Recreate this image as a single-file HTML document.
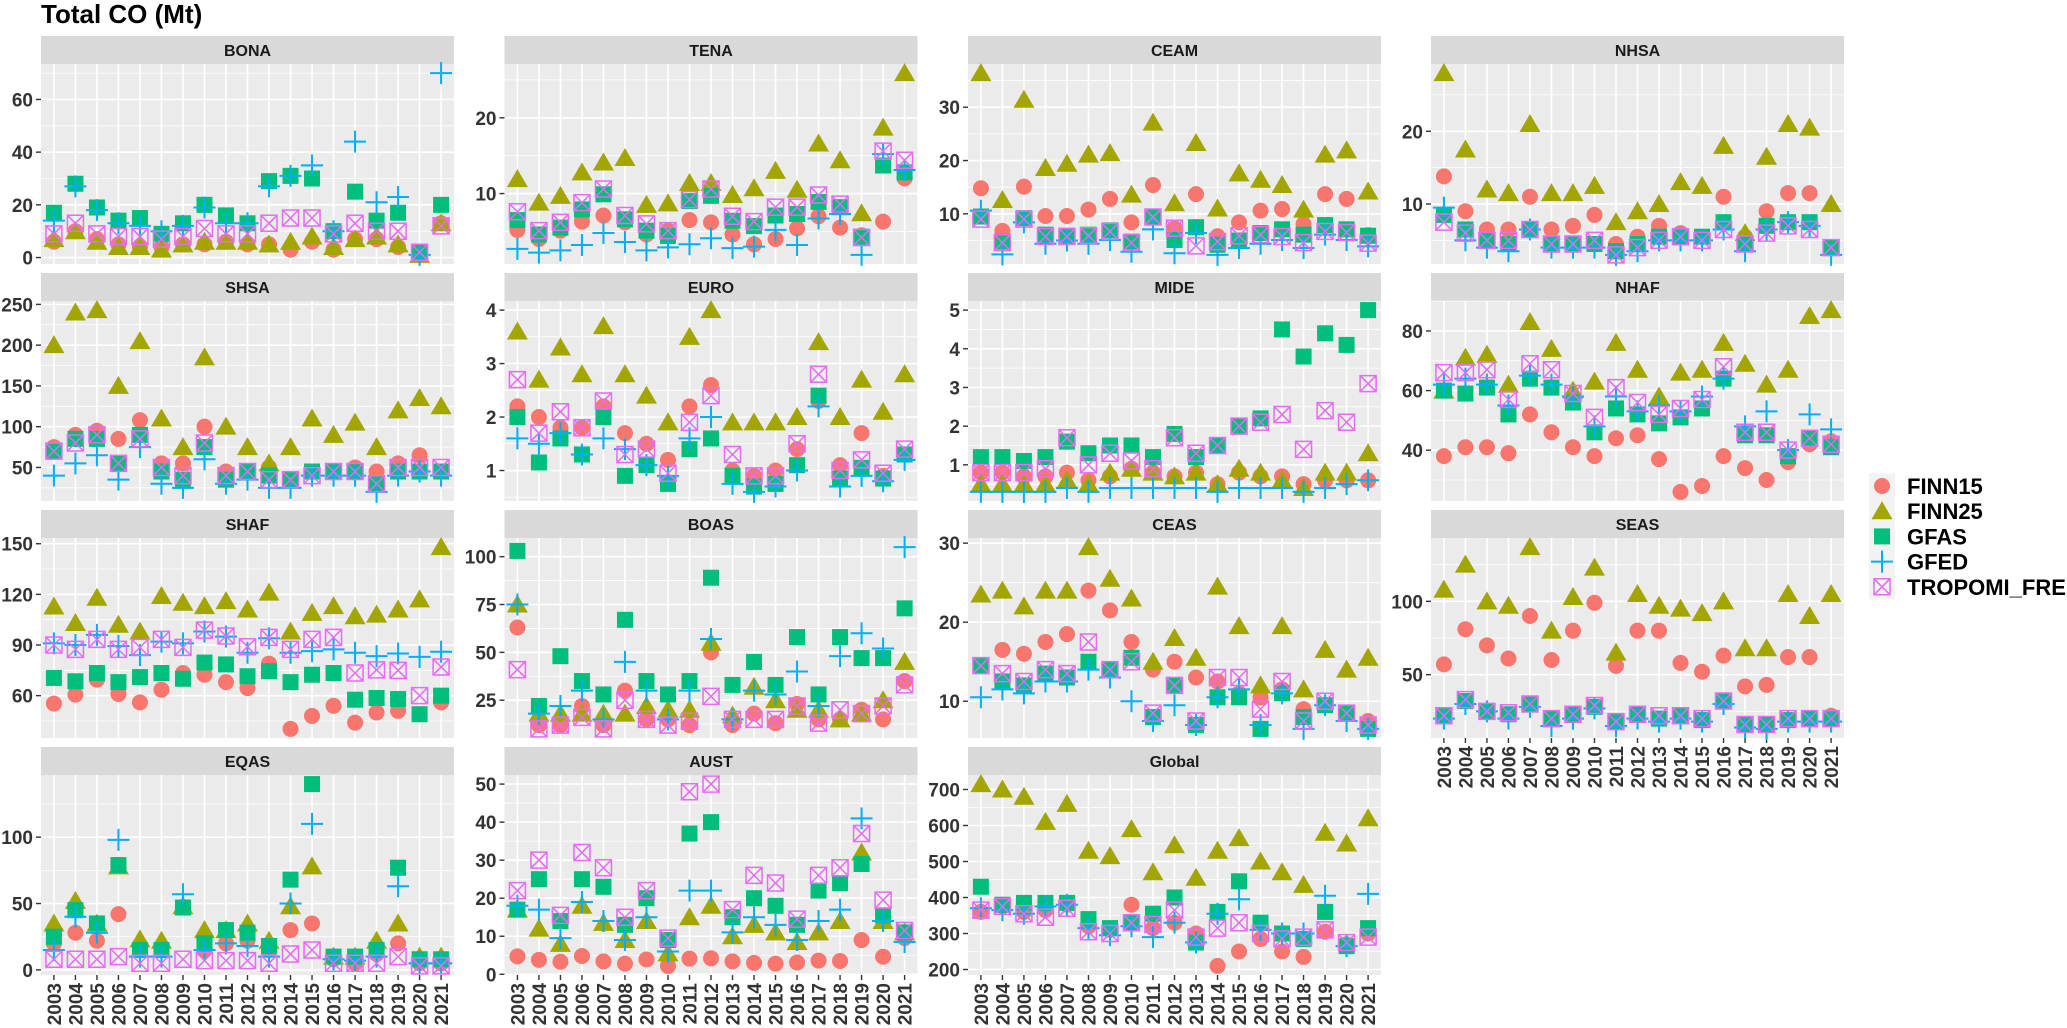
<!DOCTYPE html>
<html><head><meta charset="utf-8"><style>
html,body{margin:0;padding:0;background:#fff;}
svg{display:block;font-family:"Liberation Sans",Arial,sans-serif;}
</style></head><body>
<svg id="chart" width="2067" height="1028" viewBox="0 0 2067 1028" xmlns="http://www.w3.org/2000/svg">
<text x="41" y="23" font-size="26" font-weight="bold" fill="#000">Total CO (Mt)</text>
<g id="panels"></g>
<g id="legend"></g>
</svg>
<script>
const years = [2003,2004,2005,2006,2007,2008,2009,2010,2011,2012,2013,2014,2015,2016,2017,2018,2019,2020,2021];
const seriesNames = ["FINN15","FINN25","GFAS","GFED","TROPOMI_FRE"];

const bonaFinn15 = [6,10,7,5,4,4,5,5,6,5,5,3,6,3,7,7,4,1,13];
const bonaFinn25 = [7,10,6,4,4,3,5,6,6,6,5,6,8,4,7,8,5,1,13];
const bonaGfas = [17,28,19,14,15,9,13,20,16,13,29,31,30,10,25,14,17,2,20];
const bonaGfed = [14,27,18,13,12,10,12,19,13,13,27,31,35,10,44,21,23,1,70];
const bonaTropomi = [9,13,9,8,8,7,8,11,9,9,13,15,15,9,13,10,10,2,12];
const bonaTicks = [0,20,40,60];

const tenaFinn15 = [5.2,4,5.1,6.3,7.1,6.2,4.6,5.1,6.5,6.2,4.6,3.3,4,5.4,7,5.5,4.5,6.3,12];
const tenaFinn25 = [11.9,8.8,9.7,12.8,14.1,14.7,8.5,8.7,11.4,11.4,9.8,10.7,13,10.5,16.6,14.4,7.4,18.7,25.9];
const tenaGfas = [6.5,4.6,5.5,7.9,9.9,6.6,5.1,4.4,9,9.7,6.4,5.7,7.1,7.3,8.9,8.2,4.3,13.7,12.8];
const tenaGfed = [2.7,2.2,2.5,3.2,4.8,3.6,2.5,2.9,3.3,4.1,2.8,3,5.2,3.2,6.7,7.3,1.9,15.2,13.1];
const tenaTropomi = [7.6,5.1,6.2,8.8,10.6,7.1,6,5.1,9.2,10.6,7,6.3,8.2,8.2,9.8,8.6,4.2,15.6,14.4];
const tenaTicks = [10,20];

const ceamFinn15 = [14.8,6.8,15.1,9.6,9.6,10.8,12.8,8.4,15.4,7.3,13.7,5.8,8.4,10.6,10.9,8.1,13.7,12.8,6];
const ceamFinn25 = [36.4,12.6,31.4,18.6,19.4,21.1,21.4,13.6,27.1,12,23.3,11,17.6,16.4,15.4,10.8,21.1,21.9,14.2];
const ceamGfas = [9.5,4.8,9.2,6.1,5.9,6.1,6.9,4.8,9.5,5.1,7.5,4.2,5,6.4,7.1,6.1,7.9,7.1,5.9];
const ceamGfed = [10.6,2.4,8.4,4.4,5,4.4,5.1,2.9,7.1,2.6,6.4,2.3,3.6,4.4,5.1,3.6,6.1,5.1,3.9];
const ceamTropomi = [9,4.6,9,5.75,5.75,5.9,6.7,4.6,9.4,7.3,4,4.8,5.9,6.1,5.75,4.6,6.7,6.5,4.5];
const ceamTicks = [10,20,30];

const nhsaFinn15 = [13.8,9,6.5,6.5,11,6.5,7,8.5,4.5,5.5,7,6,5.5,11,5.5,9,11.5,11.5,4];
const nhsaFinn25 = [28,17.5,12,11.5,21,11.5,11.5,12.5,7.5,9,10,13,12.5,18,6,16.5,21,20.5,10];
const nhsaGfas = [8.5,6.5,5,4.5,6.5,4.5,4.5,4.5,3.5,4.5,5.5,5.5,5.5,7.5,4.5,7,7.5,7.5,4];
const nhsaGfed = [9.5,5,4,3.5,6.5,4,4,4,3,3.5,5,5,5,6.5,3.5,6.5,7.5,7,3];
const nhsaTropomi = [7.5,6,5,5,6.5,4.5,4.5,5,3,4,5,5.5,5,6.5,4.5,6,7,6.5,4];
const nhsaTicks = [10,20];

const shsaFinn15 = [75,90,95,85,108,55,55,100,45,45,50,35,45,45,50,45,55,65,45];
const shsaFinn25 = [200,240,243,150,205,110,75,185,100,75,55,75,110,90,105,75,120,135,125];
const shsaGfas = [70,85,85,55,90,45,35,75,35,45,40,35,45,45,45,30,45,45,45];
const shsaGfed = [40,55,65,35,75,30,25,60,30,35,25,25,40,40,40,20,40,45,40];
const shsaTropomi = [70,80,90,55,85,50,40,80,40,45,35,35,40,45,45,30,50,50,50];
const shsaTicks = [50,100,150,200,250];

const euroFinn15 = [2.2,2.0,1.8,1.8,2.2,1.7,1.5,1.2,2.2,2.6,1.0,0.9,1.0,1.4,2.3,1.1,1.7,0.9,1.3];
const euroFinn25 = [3.6,2.7,3.3,2.8,3.7,2.8,2.4,1.9,3.5,4.0,1.9,1.9,1.9,2.0,3.4,2.0,2.7,2.1,2.8];
const euroGfas = [2.0,1.15,1.6,1.3,2.0,0.9,1.1,0.75,1.4,1.6,0.9,0.7,0.75,1.1,2.4,0.85,1.05,0.85,1.3];
const euroGfed = [1.6,1.5,1.7,1.3,1.6,1.4,1.1,0.9,1.6,2.0,0.75,0.6,0.7,1.0,2.2,0.7,0.9,0.8,1.2];
const euroTropomi = [2.7,1.7,2.1,1.8,2.3,1.3,1.4,0.95,1.9,2.4,1.3,0.9,0.9,1.5,2.8,1.0,1.2,0.95,1.4];
const euroTicks = [1,2,3,4];

const mideFinn15 = [0.8,0.8,0.7,0.7,0.8,0.6,0.7,0.9,0.8,0.7,0.8,0.5,0.8,0.7,0.7,0.5,0.6,0.6,0.6];
const mideFinn25 = [0.5,0.5,0.5,0.5,0.6,0.5,0.8,0.9,0.8,0.7,0.8,0.5,0.9,0.8,0.6,0.4,0.8,0.8,1.3];
const mideGfas = [1.2,1.2,1.1,1.2,1.6,1.3,1.5,1.5,1.2,1.8,1.2,1.5,2.0,2.2,4.5,3.8,4.4,4.1,5.0];
const mideGfed = [0.3,0.3,0.3,0.3,0.4,0.3,0.4,0.4,0.4,0.4,0.4,0.3,0.4,0.4,0.4,0.3,0.4,0.5,0.6];
const mideTropomi = [0.8,0.8,0.8,0.9,1.7,1.0,1.3,1.1,0.9,1.7,1.3,1.5,2.0,2.1,2.3,1.4,2.4,2.1,3.1];
const mideTicks = [0,1,2,3,4,5];

const nhafFinn15 = [38,41,41,39,52,46,41,38,44,45,37,26,28,38,34,30,36,42,43];
const nhafFinn25 = [60,71,72,62,83,74,60,63,76,67,58,66,67,76,69,62,67,85,87];
const nhafGfas = [60,59,61,52,64,61,56,46,54,52,49,51,54,64,45,45,38,44,41];
const nhafGfed = [62,64,62,55,65,62,58,48,58,53,55,53,58,64,48,53,40,52,47];
const nhafTropomi = [66,66,67,57,69,67,59,51,61,56,52,54,57,68,46,46,40,44,42];
const nhafTicks = [40,60,80];

const shafFinn15 = [55.3,60.6,69.5,61,56,63.5,73.4,72.4,68,64.5,79,40.3,48,54,44,50,51,49,56];
const shafFinn25 = [112.8,103,118,102,98,119,115,113,116,111,121,98,109,113,107,108,111,117,148];
const shafGfas = [70.5,68.5,73.4,68,71,73.4,70,79.6,78.5,71.5,74.5,68,72.4,73.4,57.6,58.6,58,49,60];
const shafGfed = [91,90,96,89.4,84,92,91,98,95,85.4,94,85.4,86.4,87.4,85.4,83.4,85,83,86];
const shafTropomi = [90,87.4,93.3,87.4,88.6,93.3,88.6,98.8,95.3,89,94.5,87.4,93.3,94.5,73.4,75.3,75,60,77];
const shafTicks = [60,90,120,150];

const boasFinn15 = [63,12,12,22,12,30,15,15,12,50,12,18,13,23,15,15,20,15,35];
const boasFinn25 = [75,18,18,18,18,18,22,20,20,55,17,32,25,20,20,15,18,25,45];
const boasGfas = [103,22,48,35,28,67,35,28,35,89,33,45,33,58,28,58,47,47,73];
const boasGfed = [75,18,22,30,15,45,30,15,30,57,15,30,28,40,22,48,60,52,105];
const boasTropomi = [41,10,12,16,10,25,15,12,14,27,15,15,15,22,13,20,18,22,33];
const boasTicks = [25,50,75,100];

const ceasFinn15 = [14.5,16.5,16,17.5,18.5,24,21.5,17.5,14,15,13,12.5,11,10.5,11.5,9,9.5,8.5,7.5];
const ceasFinn25 = [23.5,24,22,24,24,29.5,25.5,23,15,18,15.5,24.5,19.5,12,19.5,11.5,16.5,14,15.5];
const ceasGfas = [14.5,12.5,12,13.5,13,15,14,15.5,8,12,7,10.5,10.5,6.5,11,8,9.5,8.5,6.5];
const ceasGfed = [10.5,11.5,11,12.5,12.5,14,13,10,7.5,9.5,7,10.5,11.5,7,11,6.5,9.5,7.5,6.5];
const ceasTropomi = [14.5,13.5,12.5,14,13.5,17.5,14,15,8.5,12,7.5,13,13,9,12.5,7.5,10,8.5,7];
const ceasTicks = [10,20,30];

const seasFinn15 = [57,81,70,61,90,60,80,99,56,80,80,58,52,63,42,43,62,62,22];
const seasFinn25 = [108,125,100,97,137,80,103,123,65,105,97,95,92,100,68,68,105,90,105];
const seasGfas = [22,32,25,23,30,20,23,28,18,23,20,22,19,32,16,16,19,20,20];
const seasGfed = [20,30,25,20,28,15,20,27,15,20,18,20,18,30,14,13,18,18,18];
const seasTropomi = [22,33,25,24,30,20,23,29,18,23,22,22,20,32,16,16,20,20,20];
const seasTicks = [50,100];

const eqasFinn15 = [20,28,22,42,15,15,47,15,20,22,15,30,35,8,5,12,20,5,5];
const eqasFinn25 = [35,52,35,78,23,22,48,30,30,35,22,48,78,10,10,22,35,10,10];
const eqasGfas = [25,45,35,79,15,15,47,20,30,28,18,68,140,10,10,15,77,8,8];
const eqasGfed = [15,40,28,98,10,10,57,15,20,18,10,50,110,8,7,10,63,5,5];
const eqasTropomi = [8,8,8,10,5,5,8,7,7,7,5,12,15,5,5,5,10,3,3];
const eqasTicks = [0,50,100];

const austFinn15 = [4.7,3.8,3.3,4.8,3.4,2.8,3.9,2.2,4.1,4.2,3.4,3,2.8,3.1,3.6,3.5,9,4.6,9.5];
const austFinn25 = [17,12,8,18,13.5,9,14,5.5,15,18,10,13,11,8.5,11,14,32,14,11];
const austGfas = [17,25,14,25,23,13,20,9,37,40,15,20,18,13,22,24,29,15.5,11];
const austGfed = [18,17,9.5,19,14,9,15,6,22,22,11,15,13,9,14,17,41,14,8.5];
const austTropomi = [22,30,15.5,32,28,15,22,9.5,48,50,17,26,24,14.5,26,28,37,19.5,11.5];
const austTicks = [0,10,20,30,40,50];

const globalFinn15 = [360,375,360,365,380,320,310,380,315,330,300,210,250,285,250,235,305,270,300];
const globalFinn25 = [715,700,680,610,660,530,515,590,470,545,455,530,565,500,470,435,580,550,620];
const globalGfas = [430,380,385,385,385,340,315,330,355,400,275,360,445,330,300,285,360,265,315];
const globalGfed = [370,365,355,375,380,315,295,320,290,330,275,355,395,310,300,300,405,265,410];
const globalTropomi = [365,375,355,345,370,305,300,330,325,365,290,315,330,300,285,290,310,275,290];
const globalTicks = [200,300,400,500,600,700];

const panels = [
 {name:"BONA",col:0,row:0,ticks:bonaTicks,s:[bonaFinn15,bonaFinn25,bonaGfas,bonaGfed,bonaTropomi]},
 {name:"TENA",col:1,row:0,ticks:tenaTicks,s:[tenaFinn15,tenaFinn25,tenaGfas,tenaGfed,tenaTropomi]},
 {name:"CEAM",col:2,row:0,ticks:ceamTicks,s:[ceamFinn15,ceamFinn25,ceamGfas,ceamGfed,ceamTropomi]},
 {name:"NHSA",col:3,row:0,ticks:nhsaTicks,s:[nhsaFinn15,nhsaFinn25,nhsaGfas,nhsaGfed,nhsaTropomi]},
 {name:"SHSA",col:0,row:1,ticks:shsaTicks,s:[shsaFinn15,shsaFinn25,shsaGfas,shsaGfed,shsaTropomi]},
 {name:"EURO",col:1,row:1,ticks:euroTicks,s:[euroFinn15,euroFinn25,euroGfas,euroGfed,euroTropomi]},
 {name:"MIDE",col:2,row:1,ticks:mideTicks,s:[mideFinn15,mideFinn25,mideGfas,mideGfed,mideTropomi]},
 {name:"NHAF",col:3,row:1,ticks:nhafTicks,s:[nhafFinn15,nhafFinn25,nhafGfas,nhafGfed,nhafTropomi]},
 {name:"SHAF",col:0,row:2,ticks:shafTicks,s:[shafFinn15,shafFinn25,shafGfas,shafGfed,shafTropomi]},
 {name:"BOAS",col:1,row:2,ticks:boasTicks,s:[boasFinn15,boasFinn25,boasGfas,boasGfed,boasTropomi]},
 {name:"CEAS",col:2,row:2,ticks:ceasTicks,s:[ceasFinn15,ceasFinn25,ceasGfas,ceasGfed,ceasTropomi]},
 {name:"SEAS",col:3,row:2,ticks:seasTicks,s:[seasFinn15,seasFinn25,seasGfas,seasGfed,seasTropomi],xlab:true},
 {name:"EQAS",col:0,row:3,ticks:eqasTicks,s:[eqasFinn15,eqasFinn25,eqasGfas,eqasGfed,eqasTropomi],xlab:true},
 {name:"AUST",col:1,row:3,ticks:austTicks,s:[austFinn15,austFinn25,austGfas,austGfed,austTropomi],xlab:true},
 {name:"Global",col:2,row:3,ticks:globalTicks,s:[globalFinn15,globalFinn25,globalGfas,globalGfed,globalTropomi],xlab:true}
];

const NS="http://www.w3.org/2000/svg";
const COLS=[41,504.5,968,1431], PW=413, STRIP_TOP=[36,273,510,747], STRIP_H=28, PH=200;
const colors=["#F8766D","#A3A500","#00BF7D","#00B0F6","#E76BF3"];
function mk(tag,attrs,parent){const e=document.createElementNS(NS,tag);for(const k in attrs)e.setAttribute(k,attrs[k]);parent.appendChild(e);return e;}

function drawMarker(g,k,cx,cy){
  let m;
  if(k===0){m=mk("circle",{cx:cx,cy:cy,r:8,fill:colors[0]},g);}
  else if(k===1){m=mk("polygon",{points:`${cx},${cy-10} ${cx+10.5},${cy+8} ${cx-10.5},${cy+8}`,fill:colors[1]},g);}
  else if(k===2){m=mk("rect",{x:cx-8,y:cy-8,width:16,height:16,fill:colors[2]},g);}
  else if(k===3){m=mk("path",{d:`M${cx-11},${cy}H${cx+11}M${cx},${cy-11}V${cy+11}`,stroke:colors[3],"stroke-width":2,fill:"none"},g);}
  else {m=mk("path",{d:`M${cx-8},${cy-8}h16v16h-16zM${cx-8},${cy-8}L${cx+8},${cy+8}M${cx+8},${cy-8}L${cx-8},${cy+8}`,stroke:colors[4],"stroke-width":1.5,fill:"none"},g);}
  return m;
}

const root=document.getElementById("panels");
panels.forEach(p=>{
  const left=COLS[p.col], top=STRIP_TOP[p.row]+STRIP_H, bottom=top+PH;
  const g=mk("g",{},root);
  
  
  let all=[];p.s.forEach(a=>all=all.concat(a));
  const mn=Math.min(...all), mx=Math.max(...all), r=mx-mn;
  const lo=mn-0.05*r, hi=mx+0.05*r;
  const y=v=>bottom-(v-lo)/(hi-lo)*PH;
  const step=PW/19.2;
  const x=i=>left+(i+0.6)*step;
  // strip
  const st=mk("rect",{x:left,y:STRIP_TOP[p.row],width:PW,height:STRIP_H,fill:"#D9D9D9"},g);
  
  
  const stt=mk("text",{x:left+PW/2,y:STRIP_TOP[p.row]+20,"text-anchor":"middle","font-size":16,"font-weight":"bold",fill:"#1a1a1a"},g);
  stt.textContent=p.name;
  
  
  mk("rect",{x:left,y:top,width:PW,height:PH,fill:"#EBEBEB"},g);
  // minor grid
  const tstep=p.ticks[1]-p.ticks[0];
  for(let v=p.ticks[0]-tstep*5.5; v<hi; v+=tstep){ if(v>lo) mk("line",{x1:left,x2:left+PW,y1:y(v),y2:y(v),stroke:"#fff","stroke-width":0.8},g); }
  p.ticks.forEach(t=>{ if(t<lo||t>hi) return;
    mk("line",{x1:left,x2:left+PW,y1:y(t),y2:y(t),stroke:"#fff","stroke-width":1.6},g);
    mk("line",{x1:left-5,x2:left,y1:y(t),y2:y(t),stroke:"#333","stroke-width":1.4},g);
    const tl=mk("text",{x:left-8,y:y(t)+7,"text-anchor":"end","font-size":19,"font-weight":"bold",fill:"#333"},g);
    tl.textContent=t;
    
    
  });
  years.forEach((yr,i)=>{
    mk("line",{x1:x(i),x2:x(i),y1:top,y2:bottom,stroke:"#fff","stroke-width":1.6},g);
    if(p.xlab){
      mk("line",{x1:x(i),x2:x(i),y1:bottom,y2:bottom+5,stroke:"#333","stroke-width":1.4},g);
      const xl=mk("text",{transform:`translate(${x(i)+7},${bottom+8}) rotate(-90)`,"text-anchor":"end","font-size":19,"font-weight":"bold",fill:"#333"},g);
      xl.textContent=yr;
      
      
    }
  });
  p.s.forEach((arr,k)=>{
    const sg=mk("g",{},g);
    
    
    arr.forEach((v,i)=>{
      const m=drawMarker(sg,k,x(i),y(v));
      
      
    });
  });
});

// legend
const lg=document.getElementById("legend");
seriesNames.forEach((n,k)=>{
  const cy=486+k*25.2;
  const eg=mk("g",{},lg);
  
  
  mk("rect",{x:1869,y:cy-12.6,width:26,height:25.2,fill:"#F2F2F2"},eg);
  drawMarker(eg,k,1882,cy);
  const t=mk("text",{x:1907,y:cy+8,"font-size":22,"font-weight":"bold",fill:"#000"},eg);
  t.textContent=n;
});
</script>
</body></html>
